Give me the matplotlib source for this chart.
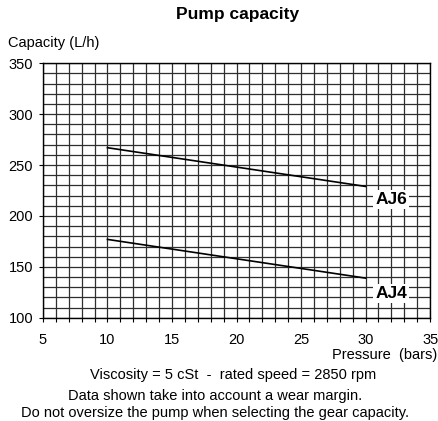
import numpy as np
import matplotlib
matplotlib.use('Agg')
import matplotlib.pyplot as plt

plt.rcParams['font.family'] = ['Liberation Sans', 'DejaVu Sans']

# curve data
pressure = [10, 30]
aj6_capacity = [267, 229]
aj4_capacity = [177, 139]

curve_labels = ['AJ6', 'AJ4']
label_pos = [(32.0, 216), (32.0, 124)]

x_ticks = [5, 10, 15, 20, 25, 30, 35]
y_ticks = [100, 150, 200, 250, 300, 350]

fig = plt.figure(figsize=(4.38, 4.21), dpi=100)
ax = fig.add_axes([0.098, 0.245, 0.884, 0.605])

ax.set_xlim(5, 35)
ax.set_ylim(100, 350)
ax.set_xticks(x_ticks)
ax.set_yticks(y_ticks)
ax.set_xticks(np.arange(5, 36, 1), minor=True)
ax.set_yticks(np.arange(100, 351, 10), minor=True)
ax.grid(which='both', color='#2e2e2e', linewidth=0.9)
ax.set_axisbelow(True)
ax.tick_params(which='both', length=3, width=0.8, direction='out',
               labelsize=10.5, pad=8)
ax.tick_params(axis='y', which='minor', length=0)
ax.tick_params(axis='y', pad=4)
for sp in ax.spines.values():
    sp.set_linewidth(1.0)
    sp.set_color('black')

ax.plot(pressure, aj6_capacity, color='black', lw=1.2)
ax.plot(pressure, aj4_capacity, color='black', lw=1.2)

for lab, (xx, yy) in zip(curve_labels, label_pos):
    ax.text(xx, yy, lab, ha='center', va='center', fontsize=12.5,
            fontweight='bold',
            bbox=dict(facecolor='white', edgecolor='none', pad=1.5))

fig.text(0.543, 0.965, 'Pump capacity', ha='center', va='center',
         fontsize=12.5, fontweight='bold')
fig.text(0.018, 0.898, 'Capacity (L/h)', ha='left', va='center',
         fontsize=10.5)
fig.text(0.998, 0.157, 'Pressure  (bars)', ha='right', va='center',
         fontsize=10.5)
fig.text(0.532, 0.109, 'Viscosity = 5 cSt  -  rated speed = 2850 rpm',
         ha='center', va='center', fontsize=10.5)
fig.text(0.490, 0.060, 'Data shown take into account a wear margin.',
         ha='center', va='center', fontsize=10.5)
fig.text(0.490, 0.018,
         'Do not oversize the pump when selecting the gear capacity.',
         ha='center', va='center', fontsize=10.5)

fig.savefig('out.png', dpi=100, facecolor='white')
